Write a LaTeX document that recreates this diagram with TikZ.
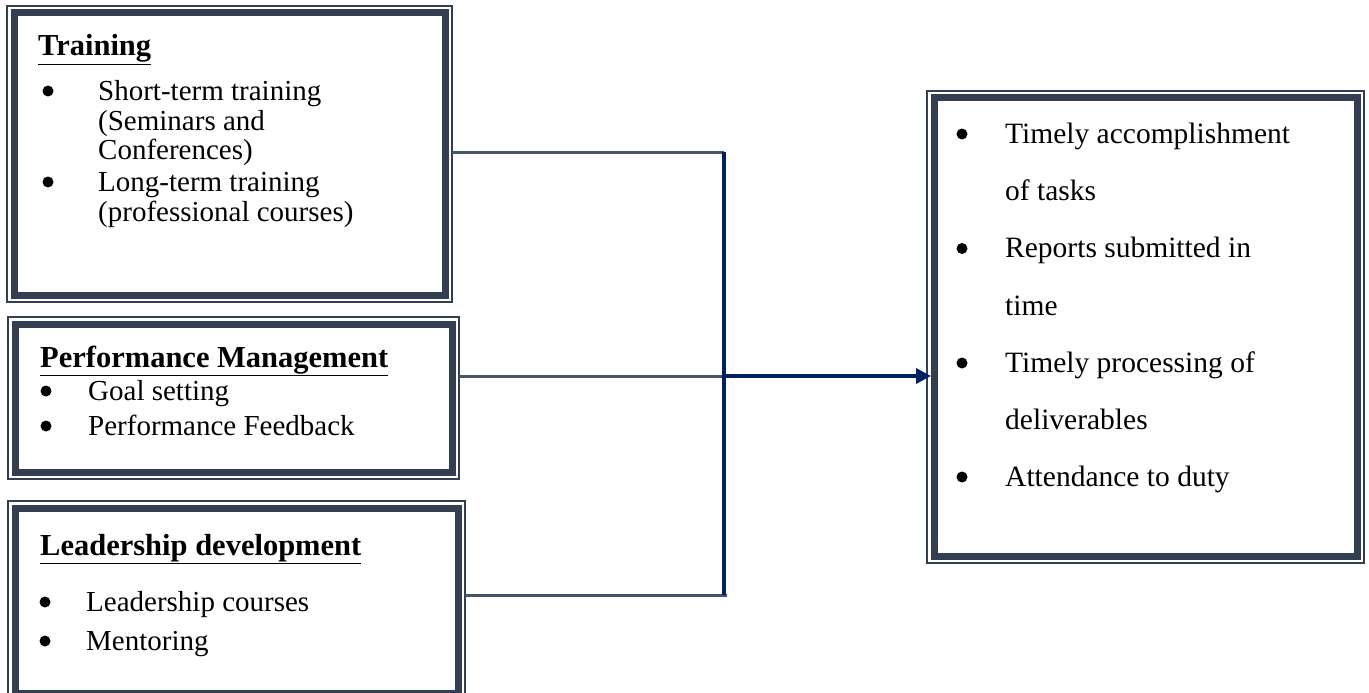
\documentclass[tikz,border=0pt]{standalone}
\usepackage{fontspec}
\setmainfont{Liberation Serif}
\usetikzlibrary{arrows.meta}
\definecolor{boxcol}{HTML}{333F50}
\definecolor{conncol}{HTML}{44546A}
\definecolor{navyline}{HTML}{002060}
\tikzset{
  outerbox/.style={draw=boxcol, line width=1.5pt, anchor=north west, inner sep=0pt, outer sep=0pt},
  innerframe/.style={draw=boxcol, line width=7pt},
  txt/.style={anchor=base west, inner sep=0pt, font=\fontsize{29}{30}\selectfont},
  txtr/.style={anchor=base west, inner sep=0pt, font=\fontsize{29.5}{30}\selectfont},
  hd/.style={anchor=base west, inner sep=0pt, font=\fontsize{30.5}{32}\selectfont\bfseries},
  dot/.style={circle, fill=black, inner sep=0pt, minimum size=11pt},
  conn/.style={draw=conncol, line width=3pt},
  spine/.style={draw=navyline, line width=3.5pt},
}
\begin{document}
\begin{tikzpicture}[x=1pt,y=-1pt]
\useasboundingbox (0,0) rectangle (1369,693);
\clip (0,0) rectangle (1369,693);
\fill[white] (0,0) rectangle (1369,693);

% boxes
\node[outerbox, minimum width=445pt, minimum height=296pt] (b1) at (7,6) {};
\node[outerbox, minimum width=451pt, minimum height=162pt] (b2) at (8,317) {};
\node[outerbox, minimum width=457pt, minimum height=199pt] (b3) at (8,501) {};
\node[outerbox, minimum width=437pt, minimum height=472pt] (b4) at (927,91) {};
\foreach \b in {b1,b2,b3,b4}{
  \draw[innerframe] ([xshift=7pt,yshift=-7pt]\b.north west) rectangle ([xshift=-7pt,yshift=7pt]\b.south east);
}

% box 1 text
\node[hd] (t1h) at (38,56) {\underline{Training}};
\node[dot] (t1b1) at (48,91) {};
\node[txt] (t1l1) at (98,100) {Short-term training};
\node[txt] (t1l2) at (98,130) {(Seminars and};
\node[txt] (t1l3) at (98,159) {Conferences)};
\node[dot] (t1b2) at (48,182) {};
\node[txt] (t1l4) at (98,191) {Long-term training};
\node[txt] (t1l5) at (98,221) {(professional courses)};

% box 2 text
\node[hd] (t2h) at (40,367) {\underline{Performance Management}};
\node[dot] (t2b1) at (46,391) {};
\node[txt] (t2l1) at (88,400) {Goal setting};
\node[dot] (t2b2) at (46,426) {};
\node[txt] (t2l2) at (88,435) {Performance Feedback};

% box 3 text
\node[hd] (t3h) at (40,555) {\underline{Leadership development}};
\node[dot] (t3b1) at (45,602) {};
\node[txt] (t3l1) at (86,611) {Leadership courses};
\node[dot] (t3b2) at (45,641) {};
\node[txt] (t3l2) at (86,650) {Mentoring};

% box 4 text
\node[dot] (t4b1) at (962,134) {};
\node[txtr] (t4l1) at (1005,143) {Timely accomplishment};
\node[txtr] (t4l2) at (1005,200) {of tasks};
\node[dot] (t4b2) at (962,248.5) {};
\node[txtr] (t4l3) at (1005,257.5) {Reports submitted in};
\node[txtr] (t4l4) at (1005,315) {time};
\node[dot] (t4b3) at (962,363) {};
\node[txtr] (t4l5) at (1005,372) {Timely processing of};
\node[txtr] (t4l6) at (1005,429) {deliverables};
\node[dot] (t4b4) at (962,477) {};
\node[txtr] (t4l7) at (1005,486) {Attendance to duty};

% connectors
\coordinate (jt) at (724,152);
\coordinate (jm) at (724,376);
\coordinate (jb) at (724,595);
\coordinate (jbe) at (727,595);
\draw[conn] (b1.east |- jt) -- (jt);
\draw[conn] (b2.east |- jm) -- (jm);
\draw[conn] (b3.east |- jb) -- (jbe);
\draw[spine] (jt) -- (jb);
\draw[spine, -{Triangle[length=15pt,width=15pt]}, shorten >=-4pt] (jm) -- (b4.west |- jm);
\end{tikzpicture}
\end{document}
